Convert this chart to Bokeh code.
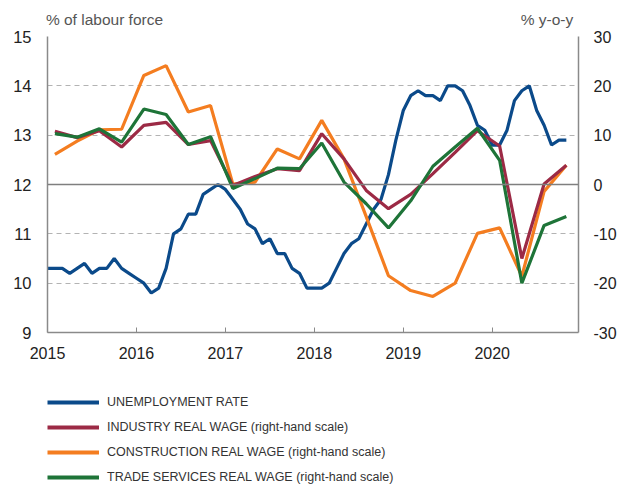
import pandas as pd
from bokeh.plotting import figure
from bokeh.layouts import column
from bokeh.models import (Range1d, LinearAxis, FixedTicker, Span,
                          Legend, LegendItem)
from bokeh.embed import file_html
from bokeh.resources import INLINE

# ---------------- data ----------------
months = pd.period_range("2015-01", "2020-11", freq="M")
unemployment = [10.3, 10.3, 10.3, 10.2, 10.3, 10.4, 10.2, 10.3, 10.3, 10.5, 10.3, 10.2,
                10.1, 10.0, 9.8, 9.9, 10.3, 11.0, 11.1, 11.4, 11.4, 11.8, 11.9, 12.0,
                11.9, 11.7, 11.5, 11.2, 11.1, 10.8, 10.9, 10.6, 10.6, 10.3, 10.2, 9.9,
                9.9, 9.9, 10.0, 10.3, 10.6, 10.8, 10.9, 11.2, 11.5, 11.7, 12.2, 12.9,
                13.5, 13.8, 13.9, 13.8, 13.8, 13.7, 14.0, 14.0, 13.9, 13.6, 13.2, 13.1,
                12.8, 12.8, 13.1, 13.7, 13.9, 14.0, 13.5, 13.2, 12.8, 12.9, 12.9]

quarters = pd.period_range("2015Q1", "2020Q4", freq="Q")
industry = [10.8, 9.5, 10.9, 7.6, 12.0, 12.6, 8.1, 8.9,
            -0.2, 1.6, 3.2, 2.8, 10.3, 5.2, -1.2, -4.9,
            -2.0, 2.2, 6.5, 10.9, 7.8, -15.0, 0.1, 3.9]
construction = [6.1, 8.8, 11.1, 11.2, 22.1, 24.1, 14.7, 16.0,
                0.1, 0.5, 7.2, 5.2, 13.0, 5.2, -6.5, -18.5,
                -21.5, -22.7, -20.0, -9.9, -8.8, -18.6, -1.4, 3.9]
trade = [10.3, 9.6, 11.3, 8.6, 15.3, 14.2, 8.1, 9.7,
         -0.8, 1.2, 3.3, 3.2, 8.4, 0.5, -3.9, -8.8,
         -3.3, 3.7, 7.6, 11.4, 4.9, -20.0, -8.3, -6.5]

years = [2015, 2016, 2017, 2018, 2019, 2020]
left_ticks = [9, 10, 11, 12, 13, 14, 15]
right_ticks = [-30, -20, -10, 0, 10, 20, 30]

unit_left = "% of labour force"
unit_right = "% y-o-y"
legend_labels = ["UNEMPLOYMENT RATE",
                 "INDUSTRY REAL WAGE (right-hand scale)",
                 "CONSTRUCTION REAL WAGE (right-hand scale)",
                 "TRADE SERVICES REAL WAGE (right-hand scale)"]

# decimal-year positions (monthly at start of month, quarterly at mid-quarter month)
mx = [m.year + (m.month - 1) / 12 for m in months]
qx = [q.year + (3 * (q.quarter - 1) + 1) / 12 for q in quarters]

# ---------------- style ----------------
BLUE = "#0b4a8a"
RED = "#9c2a45"
ORANGE = "#f47d20"
GREEN = "#1e7438"
COLORS = [BLUE, RED, ORANGE, GREEN]
AXIS = "#8a8a8a"
FONT = "Liberation Sans"
TXT = "#222222"
LW = 3.2

W = 619
H1, H2 = 371, 114
ML, MR, MT, MB = 47, 41, 36, 39
X0, X1 = 2015, 2020.97
frame_w = W - ML - MR

p = figure(width=W, height=H1, output_backend="svg", toolbar_location=None,
           x_range=Range1d(X0, X1), y_range=Range1d(9, 15),
           min_border_left=ML, min_border_right=MR, min_border_top=MT,
           min_border_bottom=MB)
p.outline_line_color = None
p.background_fill_color = "white"
p.border_fill_color = "white"
p.extra_y_ranges = {"r": Range1d(-30, 30)}

# bottom axis
p.xaxis.ticker = FixedTicker(ticks=years)
p.xaxis.axis_line_color = AXIS
p.xaxis.axis_line_width = 1.5
p.xaxis.major_tick_in = 5
p.xaxis.major_tick_out = 0
p.xaxis.major_tick_line_color = AXIS
p.xaxis.minor_tick_line_color = None
p.xaxis.major_label_text_font = FONT
p.xaxis.major_label_text_font_size = "16px"
p.xaxis.major_label_text_color = TXT
p.xaxis.major_label_standoff = 14
p.xaxis.axis_label_standoff = 0

# left axis
p.yaxis.ticker = FixedTicker(ticks=left_ticks)
p.yaxis.axis_line_color = AXIS
p.yaxis.axis_line_width = 1.5
p.yaxis.major_tick_line_color = None
p.yaxis.major_tick_in = 0
p.yaxis.major_tick_out = 0
p.yaxis.minor_tick_line_color = None
p.yaxis.major_label_text_font = FONT
p.yaxis.major_label_text_font_size = "16.5px"
p.yaxis.major_label_text_color = TXT
p.yaxis.major_label_standoff = 16
p.yaxis.axis_label_standoff = 0

# right axis
raxis = LinearAxis(y_range_name="r", ticker=FixedTicker(ticks=right_ticks))
raxis.axis_line_color = AXIS
raxis.axis_line_width = 1.5
raxis.major_tick_line_color = None
raxis.major_tick_in = 0
raxis.major_tick_out = 0
raxis.minor_tick_line_color = None
raxis.major_label_text_font = FONT
raxis.major_label_text_font_size = "16px"
raxis.major_label_text_color = TXT
raxis.major_label_text_align = "left"
raxis.major_label_standoff = 15
raxis.axis_label_standoff = 0
raxis.major_label_overrides = {t: str(t) for t in right_ticks}
p.add_layout(raxis, "right")

# unit captions above the frame (as labels of an invisible top axis)
def px_to_x(px):
    return round(X0 + px / frame_w * (X1 - X0), 4)

cap_left = px_to_x(57)            # caption centre, px from frame left
cap_right = px_to_x(frame_w - 31.5)
top = LinearAxis(ticker=FixedTicker(ticks=[cap_left, cap_right]))
top.major_label_overrides = {cap_left: unit_left, cap_right: unit_right}
top.axis_line_color = None
top.major_tick_line_color = None
top.major_tick_in = 0
top.major_tick_out = 0
top.minor_tick_line_color = None
top.major_label_text_font = FONT
top.major_label_text_font_size = "15.5px"
top.major_label_text_color = "#555555"
top.major_label_standoff = 9
top.axis_label_standoff = 0
p.add_layout(top, "above")

# grid
p.xgrid.grid_line_color = None
p.ygrid.ticker = FixedTicker(ticks=[t for t in left_ticks if t not in (9, 12)])
p.ygrid.grid_line_color = "#b3b3b3"
p.ygrid.grid_line_width = 1.2
p.ygrid.grid_line_dash = "5 4"
p.add_layout(Span(location=12, dimension="width", line_color="#7f7f7f", line_width=1.5))

# lines
p.line(mx, unemployment, line_color=BLUE, line_width=LW)
p.line(qx, construction, y_range_name="r", line_color=ORANGE, line_width=LW)
p.line(qx, industry, y_range_name="r", line_color=RED, line_width=LW)
p.line(qx, trade, y_range_name="r", line_color=GREEN, line_width=LW)

# ---------------- legend panel ----------------
p2 = figure(width=W, height=H2, output_backend="svg", toolbar_location=None,
            x_range=Range1d(0, 1), y_range=Range1d(0, 1),
            x_axis_location=None, y_axis_location=None,
            min_border_left=0, min_border_right=0, min_border_top=0,
            min_border_bottom=0)
p2.outline_line_color = None
p2.grid.grid_line_color = None
p2.background_fill_color = "white"
p2.border_fill_color = "white"

nan = float("nan")
items = []
for lab, col in zip(legend_labels, COLORS):
    r = p2.line([nan, nan], [nan, nan], line_color=col, line_width=4)
    items.append(LegendItem(label=lab, renderers=[r]))

legend = Legend(items=items, location=(0, -2), orientation="vertical",
                glyph_width=52, glyph_height=20, label_height=20, spacing=5,
                label_standoff=8, padding=0, margin=0,
                border_line_color=None, background_fill_alpha=0,
                label_text_font=FONT, label_text_font_size="12.5px",
                label_text_color="#333333")
p2.add_layout(legend, "center")

layout = column(p, p2, spacing=0)
open("out.html", "w").write(file_html(layout, INLINE))
